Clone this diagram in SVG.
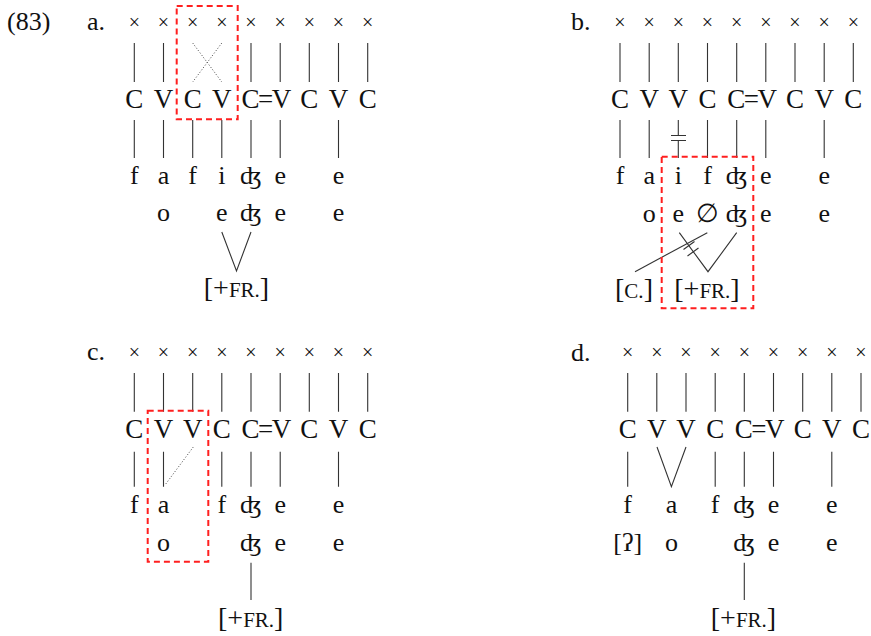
<svg xmlns="http://www.w3.org/2000/svg" width="871" height="636" viewBox="0 0 871 636">
<style>
text{font-family:"Liberation Serif","DejaVu Serif",serif;fill:#111;text-anchor:middle}
.x{font-size:20px}
.cv{font-size:27px}
.cve{font-size:27px;letter-spacing:-1.5px}
.s{font-size:26px}
.br{font-size:28px}
.sc{font-size:21px}
.lab{font-size:26px;text-anchor:start}
.ln{stroke:#333;stroke-width:1.1;fill:none}
.dot{stroke:#444;stroke-width:1;stroke-dasharray:1 2;fill:none}
.box{fill:none;stroke:#ff1f1f;stroke-width:2;stroke-dasharray:6 4}
</style>
<rect width="871" height="636" fill="#fff"/>
<text class="lab" x="7" y="30">(83)</text>

<!-- Panel a -->
<g id="panel-a">
  <text class="lab" x="87" y="30">a.</text>
  <g id="a-skeleton" class="x">
    <text x="134.3" y="29">×</text><text x="163.5" y="29">×</text><text x="192.7" y="29">×</text><text x="221.8" y="29">×</text><text x="251" y="29">×</text><text x="280.2" y="29">×</text><text x="309.3" y="29">×</text><text x="338.5" y="29">×</text><text x="367.7" y="29">×</text>
  </g>
  <g id="a-cv" class="cv">
    <text x="134.3" y="108">C</text><text x="163.5" y="108">V</text><text x="192.7" y="108">C</text><text x="221.8" y="108">V</text><text class="cve" x="265.6" y="108">C=V</text><text x="309.3" y="108">C</text><text x="338.5" y="108">V</text><text x="367.7" y="108">C</text>
  </g>
  <g id="a-seg" class="s">
    <text x="134.3" y="183.5">f</text><text x="163.5" y="183.5">a</text><text x="192.7" y="183.5">f</text><text x="221.8" y="183.5">i</text><text x="251" y="183.5">ʤ</text><text x="280.2" y="183.5">e</text><text x="338.5" y="183.5">e</text>
    <text x="163.5" y="221">o</text><text x="221.8" y="221">e</text><text x="251" y="221">ʤ</text><text x="280.2" y="221">e</text><text x="338.5" y="221">e</text>
    <text class="br" x="236.5" y="297">[+<tspan class="sc">FR.</tspan>]</text>
  </g>
  <g id="a-connectors">
    <path class="ln" d="M134.3 43V82M163.5 43V82M251 43V82M280.2 43V82M309.3 43V82M338.5 43V82M367.7 43V82"/>
    <path class="dot" d="M192.7 43L221.8 82M221.8 43L192.7 82"/>
    <path class="ln" d="M134.3 120V158M163.5 120V158M192.7 120V158M221.8 120V158M251 120V158M280.2 120V158M338.5 120V158"/>
    <path class="ln" d="M221.8 232L236.5 271L251 232"/>
  </g>
  <rect class="box" x="176.7" y="6" width="61" height="113.3"/>
</g>

<!-- Panel b -->
<g id="panel-b">
  <text class="lab" x="571" y="30">b.</text>
  <g id="b-skeleton" class="x">
    <text x="620" y="29">×</text><text x="649.2" y="29">×</text><text x="678.3" y="29">×</text><text x="707.5" y="29">×</text><text x="736.7" y="29">×</text><text x="765.8" y="29">×</text><text x="795" y="29">×</text><text x="824.2" y="29">×</text><text x="853.3" y="29">×</text>
  </g>
  <g id="b-cv" class="cv">
    <text x="620" y="108">C</text><text x="649.2" y="108">V</text><text x="678.3" y="108">V</text><text x="707.5" y="108">C</text><text class="cve" x="751.3" y="108">C=V</text><text x="795" y="108">C</text><text x="824.2" y="108">V</text><text x="853.3" y="108">C</text>
  </g>
  <g id="b-seg" class="s">
    <text x="620" y="183.5">f</text><text x="649.2" y="183.5">a</text><text x="678.3" y="183.5">i</text><text x="707.5" y="183.5">f</text><text x="736.7" y="183.5">ʤ</text><text x="765.8" y="183.5">e</text><text x="824.2" y="183.5">e</text>
    <text x="649.2" y="221.5">o</text><text x="678.3" y="221.5">e</text><text x="707.5" y="221.5">∅</text><text x="736.7" y="221.5">ʤ</text><text x="765.8" y="221.5">e</text><text x="824.2" y="221.5">e</text>
    <text class="br" x="634" y="298">[<tspan class="sc">C.</tspan>]</text>
    <text class="br" x="707" y="298">[+<tspan class="sc">FR.</tspan>]</text>
  </g>
  <g id="b-connectors">
    <path class="ln" d="M620 43V82M649.2 43V82M678.3 43V82M707.5 43V82M736.7 43V82M765.8 43V82M795 43V82M824.2 43V82M853.3 43V82"/>
    <path class="ln" d="M620 120V158M649.2 120V158M678.3 120V135.5M678.3 140.5V158M707.5 120V158M736.7 120V158M765.8 120V158M824.2 120V158"/>
    <path class="ln" d="M671 135.5H686M671 140.5H686"/>
    <path class="ln" d="M635 271.7L707.3 232.7"/>
    <path class="ln" d="M679.3 232.7L708 271.7L736.7 232.7"/>
    <path class="ln" d="M683.5 249.5L694.5 241.5M687.5 256L698.5 248"/>
  </g>
  <rect class="box" x="661.7" y="156.7" width="91.6" height="151.6"/>
</g>

<!-- Panel c -->
<g id="panel-c">
  <text class="lab" x="87" y="360">c.</text>
  <g id="c-skeleton" class="x">
    <text x="134.3" y="359">×</text><text x="163.5" y="359">×</text><text x="192.7" y="359">×</text><text x="221.8" y="359">×</text><text x="251" y="359">×</text><text x="280.2" y="359">×</text><text x="309.3" y="359">×</text><text x="338.5" y="359">×</text><text x="367.7" y="359">×</text>
  </g>
  <g id="c-cv" class="cv">
    <text x="134.3" y="438">C</text><text x="163.5" y="438">V</text><text x="192.7" y="438">V</text><text x="221.8" y="438">C</text><text class="cve" x="265.6" y="438">C=V</text><text x="309.3" y="438">C</text><text x="338.5" y="438">V</text><text x="367.7" y="438">C</text>
  </g>
  <g id="c-seg" class="s">
    <text x="134.3" y="513">f</text><text x="163.5" y="513">a</text><text x="221.8" y="513">f</text><text x="251" y="513">ʤ</text><text x="280.2" y="513">e</text><text x="338.5" y="513">e</text>
    <text x="163.5" y="551">o</text><text x="251" y="551">ʤ</text><text x="280.2" y="551">e</text><text x="338.5" y="551">e</text>
    <text class="br" x="250.7" y="627">[+<tspan class="sc">FR.</tspan>]</text>
  </g>
  <g id="c-connectors">
    <path class="ln" d="M134.3 373V411.7M163.5 373V411.7M192.7 373V411.7M221.8 373V411.7M251 373V411.7M280.2 373V411.7M309.3 373V411.7M338.5 373V411.7M367.7 373V411.7"/>
    <path class="ln" d="M134.3 451.7V486.7M163.5 451.7V486.7M221.8 451.7V486.7M251 451.7V486.7M280.2 451.7V486.7M338.5 451.7V486.7"/>
    <path class="dot" d="M193.3 447L165 485"/>
    <path class="ln" d="M251 562.7V600"/>
  </g>
  <rect class="box" x="147.7" y="410.7" width="60.6" height="151"/>
</g>

<!-- Panel d -->
<g id="panel-d">
  <text class="lab" x="571" y="361">d.</text>
  <g id="d-skeleton" class="x">
    <text x="627.7" y="359">×</text><text x="656.8" y="359">×</text><text x="686" y="359">×</text><text x="715.2" y="359">×</text><text x="744.3" y="359">×</text><text x="773.5" y="359">×</text><text x="802.7" y="359">×</text><text x="831.8" y="359">×</text><text x="861" y="359">×</text>
  </g>
  <g id="d-cv" class="cv">
    <text x="627.7" y="438">C</text><text x="656.8" y="438">V</text><text x="686" y="438">V</text><text x="715.2" y="438">C</text><text class="cve" x="758.9" y="438">C=V</text><text x="802.7" y="438">C</text><text x="831.8" y="438">V</text><text x="861" y="438">C</text>
  </g>
  <g id="d-seg" class="s">
    <text x="627.7" y="513">f</text><text x="671.4" y="513">a</text><text x="715.2" y="513">f</text><text x="744.3" y="513">ʤ</text><text x="773.5" y="513">e</text><text x="831.8" y="513">e</text>
    <text x="627.7" y="551">[ʔ]</text><text x="671.4" y="551">o</text><text x="744.3" y="551">ʤ</text><text x="773.5" y="551">e</text><text x="831.8" y="551">e</text>
    <text class="br" x="743.5" y="627">[+<tspan class="sc">FR.</tspan>]</text>
  </g>
  <g id="d-connectors">
    <path class="ln" d="M627.7 373V411.7M656.8 373V411.7M686 373V411.7M715.2 373V411.7M744.3 373V411.7M773.5 373V411.7M802.7 373V411.7M831.8 373V411.7M861 373V411.7"/>
    <path class="ln" d="M627.7 451.7V486.7M715.2 451.7V486.7M744.3 451.7V486.7M773.5 451.7V486.7M831.8 451.7V486.7"/>
    <path class="ln" d="M657 447L671.4 486.7L686 447"/>
    <path class="ln" d="M744.3 562.7V600"/>
  </g>
</g>
</svg>
